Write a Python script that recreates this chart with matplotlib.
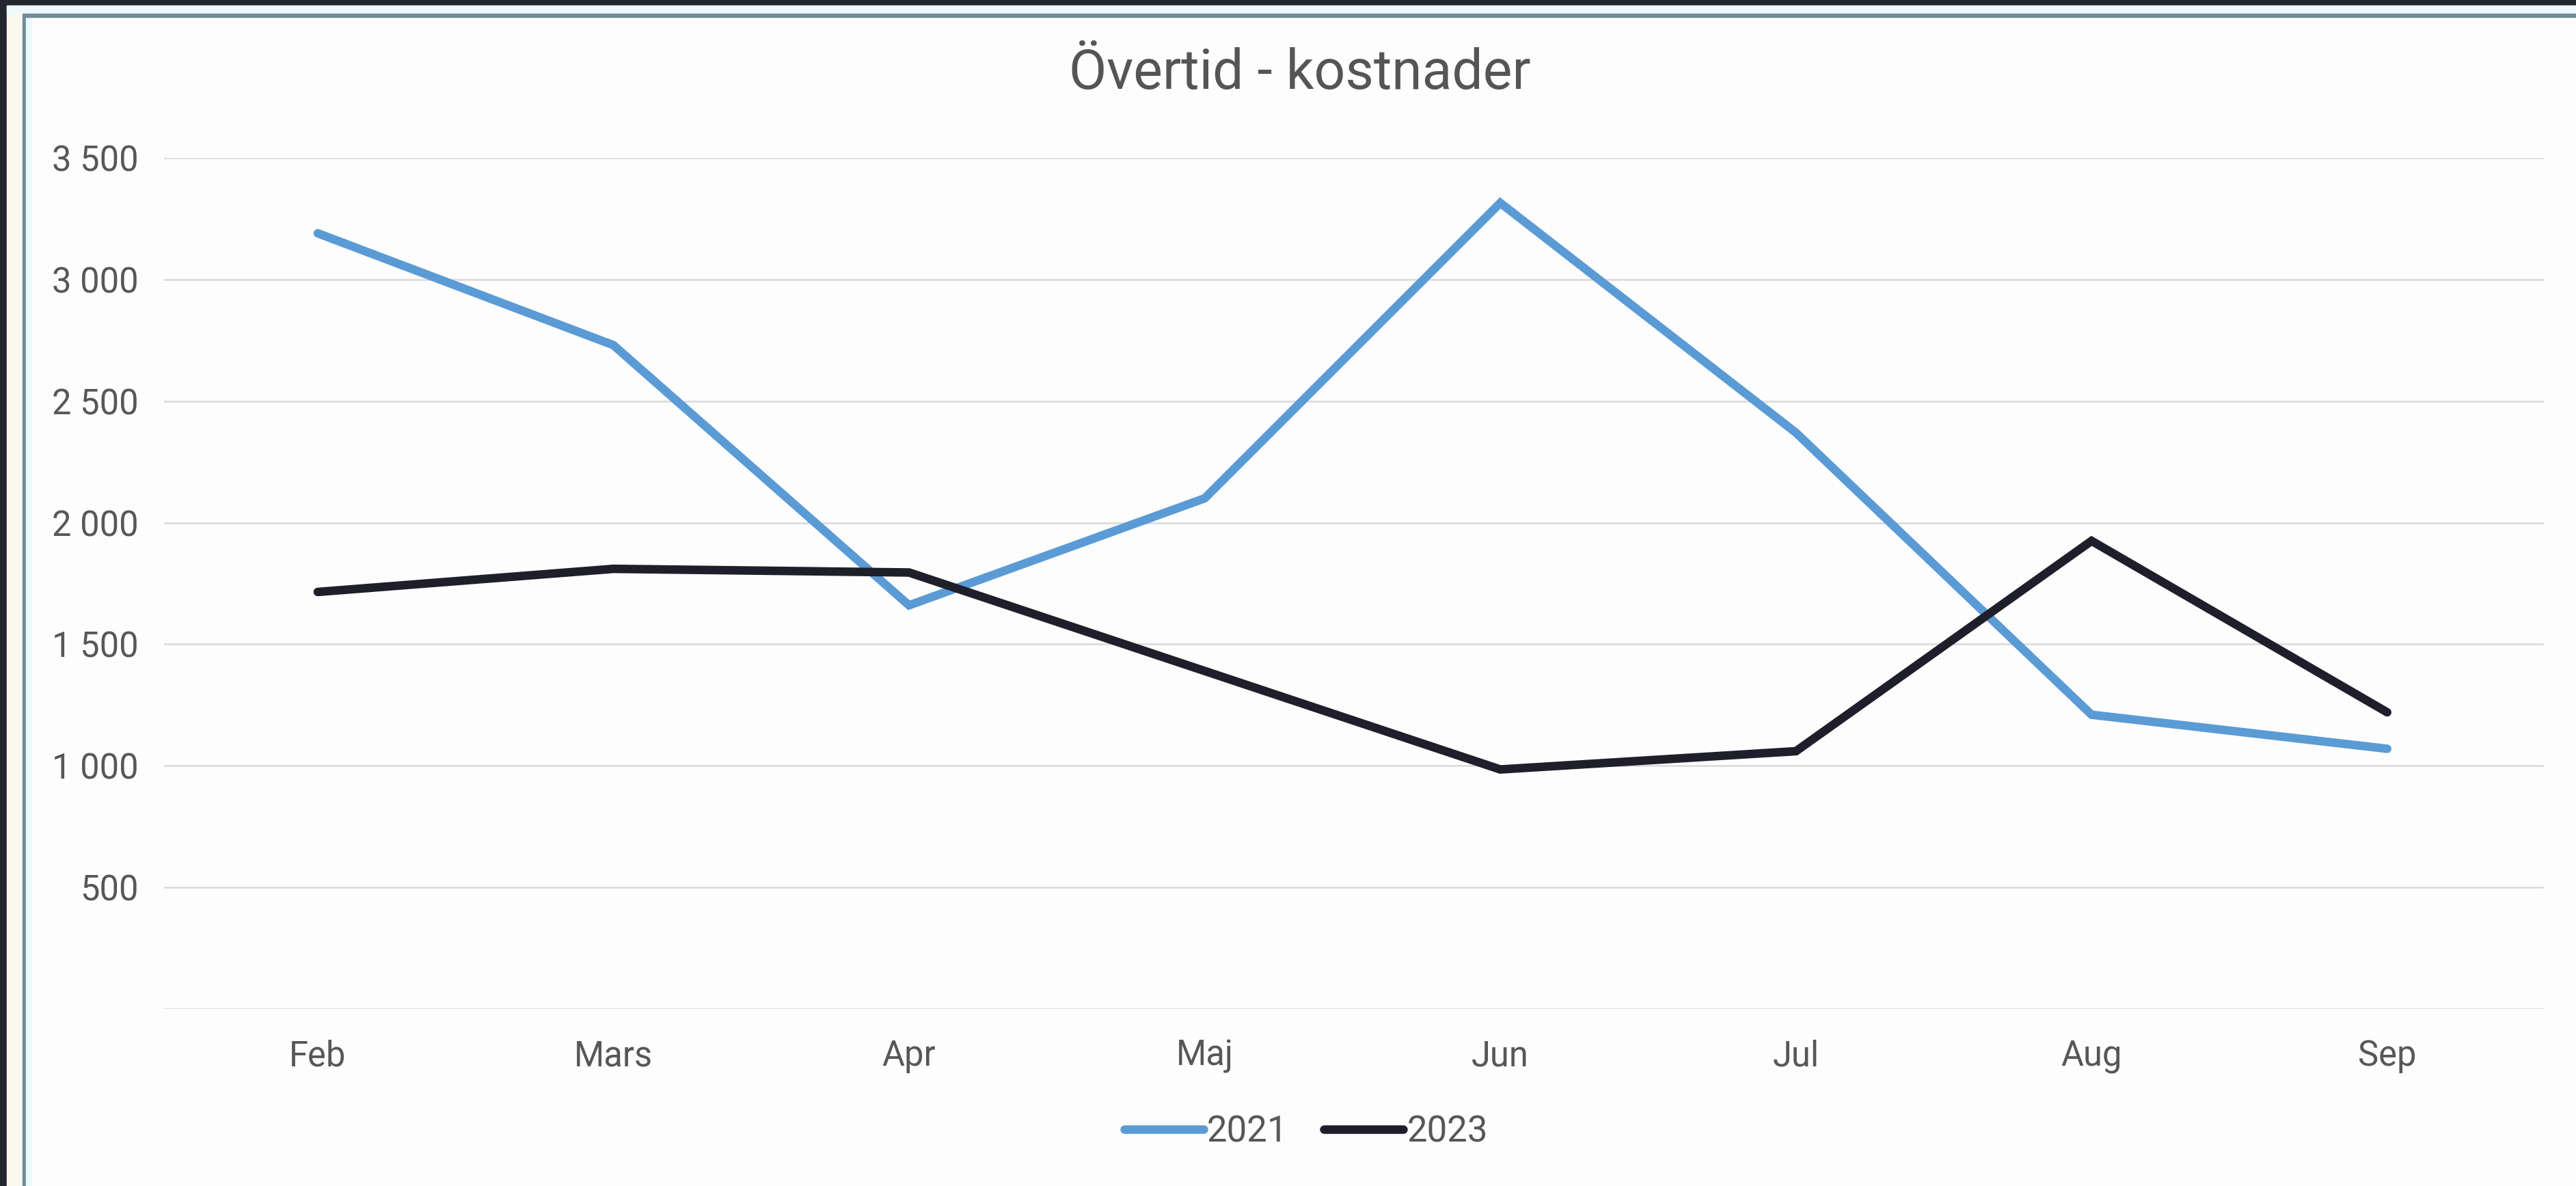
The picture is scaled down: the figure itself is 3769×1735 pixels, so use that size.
import matplotlib.pyplot as plt
from matplotlib.patches import Rectangle
from matplotlib.ticker import FuncFormatter

# Övertidskostnader per månad
manader = ['Feb', 'Mars', 'Apr', 'Maj', 'Jun', 'Jul', 'Aug', 'Sep']
kostnad_2021 = [3190, 2730, 1660, 2100, 3315, 2370, 1210, 1070]
kostnad_2023 = [1715, 1810, 1795, 1390, 985, 1060, 1925, 1220]
y_ticks = [0, 500, 1000, 1500, 2000, 2500, 3000, 3500]

plt.rcParams['font.family'] = ['Roboto', 'DejaVu Sans']
text_farg = '#575757'

W, H = 3769, 1735
fig = plt.figure(figsize=(W / 100, H / 100), dpi=100, facecolor='#fdfdfd')

# ram runt skärmdumpen (mörk kant vänster/upptill)
fig.patches.append(Rectangle((0, 0), 10 / W, 1, transform=fig.transFigure, color='#23272f', zorder=0))
fig.patches.append(Rectangle((10 / W, 0), 23 / W, 1, transform=fig.transFigure, color='#fbf8ef', zorder=0))
fig.patches.append(Rectangle((33 / W, 0), 5 / W, 1 - 20 / H, transform=fig.transFigure, color='#6f8b96', zorder=0))
fig.patches.append(Rectangle((38 / W, 0), 8 / W, 1 - 25 / H, transform=fig.transFigure, color='#eafafd', zorder=0))
fig.patches.append(Rectangle((0, 1 - 8 / H), 1, 8 / H, transform=fig.transFigure, color='#23272f', zorder=1))
fig.patches.append(Rectangle((10 / W, 1 - 20 / H), 1, 12 / H, transform=fig.transFigure, color='#eef9fc', zorder=1))
fig.patches.append(Rectangle((33 / W, 1 - 25 / H), 1, 5 / H, transform=fig.transFigure, color='#6f8e96', zorder=1))

ax = fig.add_axes([240 / W, 1 - 1476 / H, (3722 - 240) / W, (1476 - 231) / H])
ax.set_facecolor('none')

x = list(range(len(manader)))
ax.plot(x, kostnad_2021, color='#5b9bd5', lw=9, solid_capstyle='round', solid_joinstyle='miter', label='2021', zorder=3)
ax.plot(x, kostnad_2023, color='#1e1f2b', lw=9, solid_capstyle='round', solid_joinstyle='miter', label='2023', zorder=3)

ax.set_xlim(-0.52, 7.53)
ax.set_ylim(0, 3500)
ax.set_xticks(x)
ax.set_xticklabels(manader)
ax.set_yticks(y_ticks)
ax.yaxis.set_major_formatter(FuncFormatter(lambda v, p: '' if v == 0 else f'{int(v):,}'.replace(',', ' ')))
ax.grid(axis='y', color='#d9d9d9', lw=1.8, zorder=1)
ax.tick_params(axis='both', length=0, labelsize=36.5, labelcolor=text_farg)
ax.tick_params(axis='x', pad=32)
ax.tick_params(axis='y', pad=27)
for s in ax.spines.values():
    s.set_visible(False)

fig.text(1902 / W, 1 - 108 / H, 'Övertid - kostnader', ha='center', va='center', fontsize=58, color='#555555')

fig.legend(loc='center', bbox_to_anchor=(1911 / W, 1 - 1656 / H), ncol=2, frameon=False,
           fontsize=38, labelcolor=text_farg, handlelength=2.2, handletextpad=0.1, columnspacing=1.0)

fig.savefig('out.png', dpi=100, facecolor=fig.get_facecolor())
